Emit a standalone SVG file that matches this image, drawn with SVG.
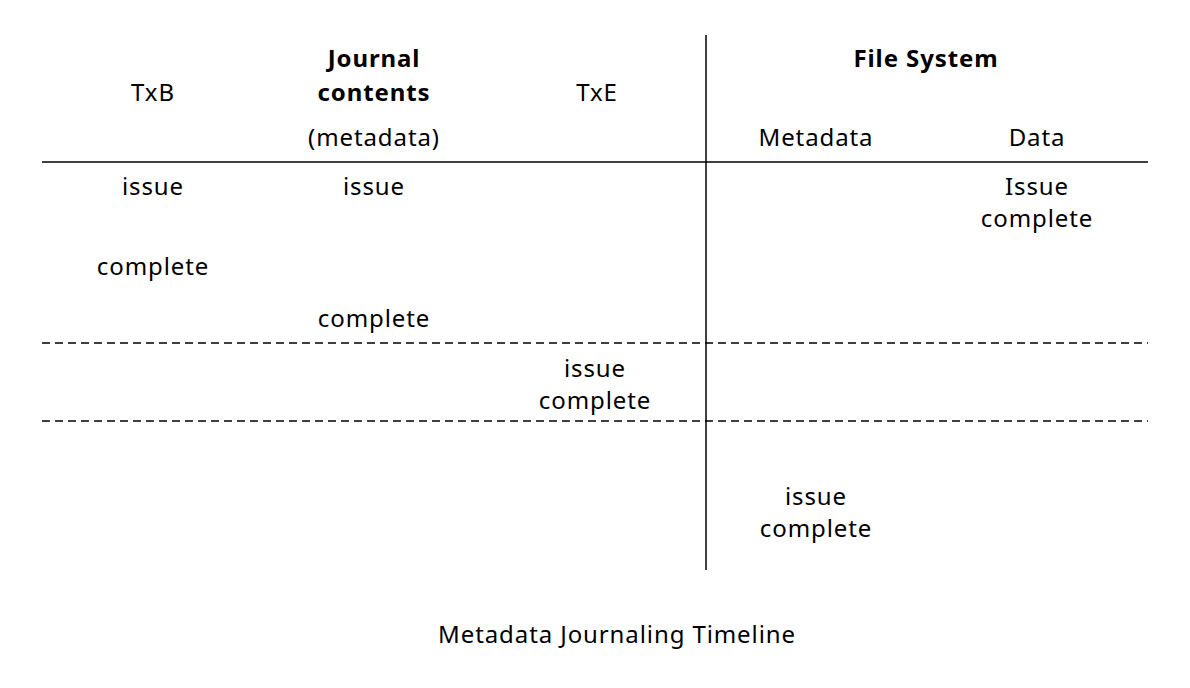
<svg xmlns="http://www.w3.org/2000/svg" width="1190" height="688" viewBox="0 0 1190 688">
<style>
text{font-family:"Noto Sans","Open Sans",sans-serif;font-size:24px;letter-spacing:0.9px;fill:#000;text-anchor:middle}
.b{font-weight:bold}
.solid{stroke:#000;stroke-width:1.5;fill:none}
.dash{stroke:#000;stroke-width:1.5;stroke-dasharray:8 5;fill:none}
</style>
<rect width="1190" height="688" fill="#fff"/>
<g id="connectors">
<line class="solid" x1="706" y1="35" x2="706" y2="570"/>
<line class="solid" x1="42" y1="162" x2="1148" y2="162"/>
<line class="dash" x1="42" y1="343" x2="1148" y2="343"/>
<line class="dash" x1="42" y1="421" x2="1148" y2="421"/>
</g>
<g id="header">
<text x="153" y="101">TxB</text>
<text class="b" x="374" y="67">Journal</text>
<text class="b" x="374" y="101">contents</text>
<text x="374" y="146">(metadata)</text>
<text x="597" y="101">TxE</text>
<text class="b" x="926" y="67">File System</text>
<text x="816" y="146">Metadata</text>
<text x="1037" y="146">Data</text>
</g>
<g id="txb-issue"><text x="153" y="195">issue</text></g>
<g id="jc-issue"><text x="374" y="195">issue</text></g>
<g id="data-io"><text x="1037" y="195">Issue</text><text x="1037" y="227">complete</text></g>
<g id="txb-complete"><text x="153" y="275">complete</text></g>
<g id="jc-complete"><text x="374" y="327">complete</text></g>
<g id="txe-io"><text x="595" y="377">issue</text><text x="595" y="409">complete</text></g>
<g id="meta-io"><text x="816" y="505">issue</text><text x="816" y="537">complete</text></g>
<g id="title"><text x="617" y="643">Metadata Journaling Timeline</text></g>
</svg>
